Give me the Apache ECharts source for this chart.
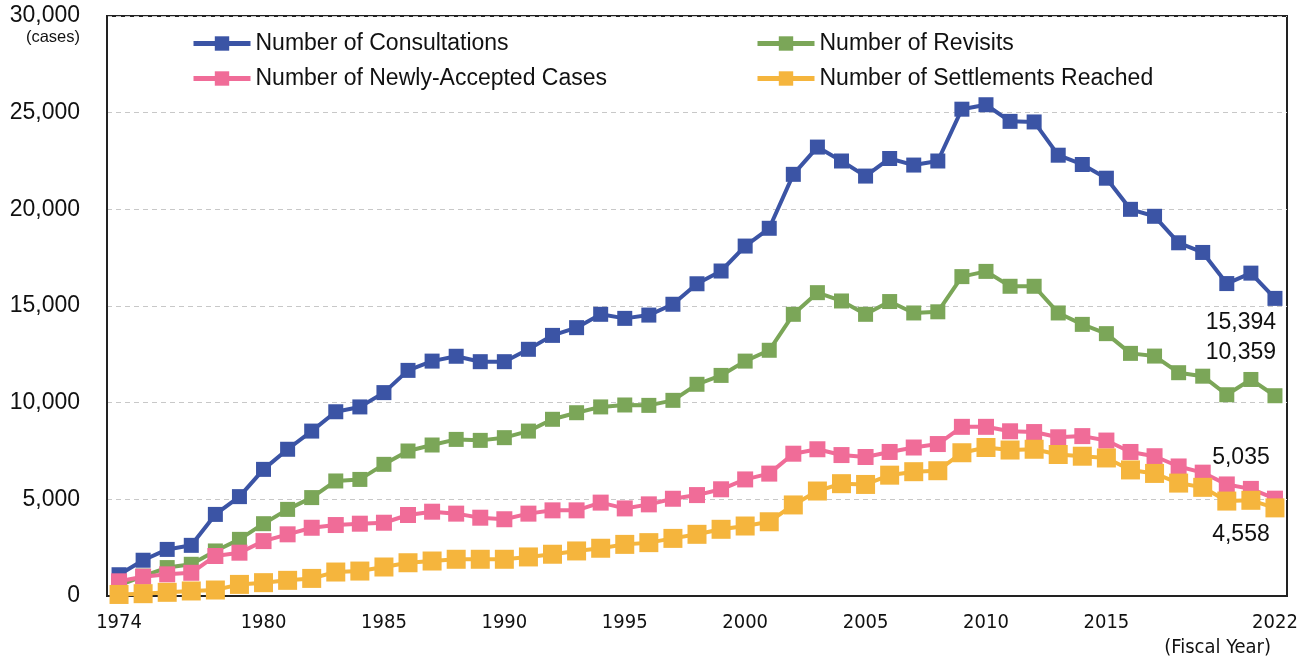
<!DOCTYPE html>
<html lang="en">
  <head>
    <meta charset="UTF-8" />
    <title>Consultations, Revisits, New Cases and Settlements</title>
    <style>
      html, body { margin: 0; padding: 0; width: 100%; height: 100%; overflow: hidden; background: #fff; }
      #chart { width: 1301px; height: 668px; }
    </style>
    <script src="https://cdn.jsdelivr.net/npm/echarts@6/dist/echarts.min.js"></script>
  </head>
  <body>
    <div id="chart"></div>
    <script>
      // fiscal years 1974 - 2022
      const years = [];
      for (let y = 1974; y <= 2022; y++) years.push(String(y));

      const consultations = [
        1100, 1850, 2410, 2620, 4220, 5140, 6550, 7590, 8530, 9530,
        9780, 10520, 11670, 12150, 12400, 12120, 12120, 12760, 13480, 13880,
        14570, 14360, 14530, 15090, 16150, 16810, 18100, 19020, 21810, 23220,
        22500, 21720, 22630, 22290, 22500, 25180, 25410, 24550, 24520, 22800,
        22320, 21610, 20000, 19640, 18270, 17770, 16160, 16700, 15394
      ];
      const revisits = [
        550, 1030, 1470, 1640, 2330, 2930, 3740, 4480, 5090, 5950,
        6030, 6810, 7500, 7810, 8100, 8050, 8190, 8530, 9140, 9480,
        9780, 9880, 9860, 10120, 10950, 11410, 12150, 12710, 14570, 15690,
        15260, 14570, 15230, 14640, 14700, 16520, 16790, 16020, 16020, 14640,
        14050, 13570, 12550, 12410, 11550, 11370, 10410, 11200, 10359
      ];
      const newCases = [
        760, 1000, 1120, 1200, 2070, 2240, 2840, 3190, 3530, 3670,
        3740, 3790, 4190, 4360, 4260, 4050, 3970, 4260, 4430, 4430,
        4830, 4530, 4740, 5030, 5220, 5520, 6030, 6330, 7360, 7590,
        7290, 7190, 7450, 7680, 7860, 8750, 8750, 8520, 8480, 8210,
        8270, 8040, 7450, 7230, 6700, 6380, 5770, 5540, 5035
      ];
      const settlements = [
        80, 120, 190, 260, 310, 600, 690, 810, 910, 1240,
        1290, 1500, 1720, 1810, 1900, 1900, 1900, 2020, 2160, 2330,
        2470, 2670, 2760, 2980, 3190, 3450, 3620, 3840, 4710, 5430,
        5810, 5770, 6250, 6430, 6480, 7410, 7680, 7550, 7590, 7320,
        7230, 7140, 6520, 6340, 5840, 5620, 4910, 4950, 4558
      ];

      const names = [
        'Number of Consultations',
        'Number of Revisits',
        'Number of Newly-Accepted Cases',
        'Number of Settlements Reached'
      ];
      const colors = ['#3B54A5', '#7BA658', '#F06C98', '#F5B53D'];

      // years that get a label under the axis
      const shownYears = ['1974', '1980', '1985', '1990', '1995', '2000', '2005', '2010', '2015', '2022'];

      const narrow = "'Liberation Sans Narrow', 'Arial Narrow', 'DejaVu Sans Condensed', 'Liberation Sans', sans-serif";
      const sans = "'Liberation Sans', Arial, sans-serif";

      const chart = echarts.init(document.getElementById('chart'), null, { renderer: 'canvas' });

      const fmt = v => v.toLocaleString('en-US');

      // put the value label only on the last point
      function withEndLabel(arr, pos, offset) {
        return arr.map((v, i) => i === arr.length - 1
          ? { value: v, label: { show: true, position: pos, offset: offset, formatter: p => fmt(p.value),
              fontSize: 23, color: '#111', fontFamily: sans } }
          : v);
      }

      function lineSeries(idx, data, size) {
        return {
          name: names[idx],
          type: 'line',
          data: data,
          symbol: 'rect',
          symbolSize: size,
          showAllSymbol: true,
          lineStyle: { width: 4, color: colors[idx] },
          itemStyle: { color: colors[idx] },
          emphasis: { disabled: true },
          animation: false
        };
      }

      const legendBase = {
        orient: 'vertical', top: 27,
        itemWidth: 57, itemHeight: 18, itemGap: 12,
        lineStyle: { width: 5 },
        textStyle: { fontSize: 23, color: '#111', fontFamily: sans }
      };

      const option = {
        animation: false,
        color: colors,
        grid: {
          left: 107, right: 14, top: 16, bottom: 72,
          show: true, borderColor: '#222', borderWidth: 2
        },
        legend: [
          Object.assign({ data: [names[0], names[2]], left: 186 }, legendBase),
          Object.assign({ data: [names[1], names[3]], left: 750 }, legendBase)
        ],
        xAxis: {
          type: 'category',
          data: years,
          boundaryGap: true,
          axisLine: { lineStyle: { color: '#222', width: 2 } },
          axisTick: { inside: true, length: 7, interval: 0, lineStyle: { color: '#222', width: 1.5 } },
          axisLabel: {
            interval: (i, v) => shownYears.indexOf(v) >= 0,
            margin: 17,
            fontSize: 20,
            color: '#111',
            fontFamily: narrow
          }
        },
        yAxis: {
          type: 'value',
          min: 0, max: 30000, interval: 5000,
          axisLine: { show: true, lineStyle: { color: '#222', width: 2 } },
          axisTick: { show: false },
          axisLabel: { formatter: v => fmt(v), fontSize: 23, color: '#111', margin: 27, fontFamily: sans },
          splitLine: { lineStyle: { color: '#c8c8c8', type: [5, 4], width: 1 } }
        },
        graphic: [
          { type: 'text', right: 1221, top: 29,
            style: { text: '(cases)', fontSize: 16.5, fill: '#111', fontFamily: sans } },
          { type: 'text', right: 30, top: 638,
            style: { text: '(Fiscal Year)', fontSize: 20, fill: '#111', fontFamily: narrow } }
        ],
        series: [
          lineSeries(0, withEndLabel(consultations, 'bottom', [-34, 0]), 15),
          lineSeries(1, withEndLabel(revisits, 'top', [-34, -19]), 15),
          lineSeries(2, withEndLabel(newCases, 'top', [-34, -17]), 16),
          lineSeries(3, withEndLabel(settlements, 'bottom', [-34, 1]), 19)
        ]
      };

      chart.setOption(option);
    </script>
  </body>
</html>
